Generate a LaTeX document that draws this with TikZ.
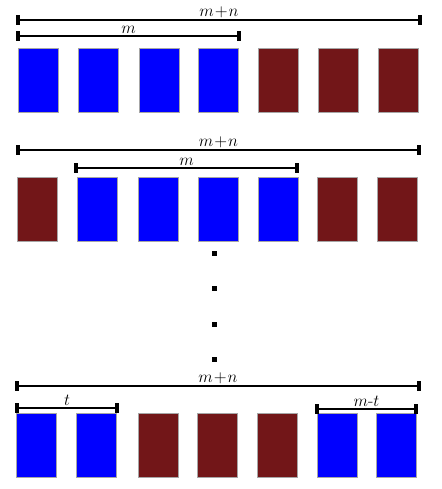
\documentclass[tikz,border=0pt]{standalone}
\usetikzlibrary{positioning,arrows.meta}
\definecolor{boxblue}{RGB}{0,0,255}
\definecolor{boxred}{RGB}{114,22,24}
\tikzset{
  cell/.style={draw=gray!70,line width=0.5pt,inner sep=0pt,minimum width=1.2cm,minimum height=1.92cm},
  bl/.style={cell,fill=boxblue},
  rd/.style={cell,fill=boxred},
  dimline/.style={line width=1pt,{Rectangle[length=3.5pt,width=8pt]}-{Rectangle[length=3.5pt,width=8pt]},shorten <=-1.75pt,shorten >=-1.75pt},
  lbl/.style={midway,above,inner sep=1.5pt,font=\fontsize{15}{18}\selectfont}
}
\begin{document}
\begin{tikzpicture}[x=0.03cm,y=-0.03cm]
  \useasboundingbox (0,0) rectangle (441,489);
  % first row
  \foreach \i/\x/\s in {1/38/bl,2/98/bl,3/159/bl,4/218/bl,5/278/rd,6/338/rd,7/398/rd}
    \node[\s] (a\i) at (\x,80) {};
  \coordinate (a0l) at (18,20); \coordinate (a0r) at (420,20);
  \coordinate (a1l) at (18,36); \coordinate (a1r) at (239,36);
  \draw[dimline] (a0l) -- (a0r) node[lbl]{$m\!+\!n$};
  \draw[dimline] (a1l) -- (a1r) node[lbl]{$m$};
  % second row
  \foreach \i/\x/\s in {1/37/rd,2/97/bl,3/158/bl,4/218/bl,5/278/bl,6/337/rd,7/397/rd}
    \node[\s] (b\i) at (\x,209) {};
  \coordinate (b0l) at (18,150); \coordinate (b0r) at (419,150);
  \coordinate (b1l) at (76,168); \coordinate (b1r) at (297,168);
  \draw[dimline] (b0l) -- (b0r) node[lbl]{$m\!+\!n$};
  \draw[dimline] (b1l) -- (b1r) node[lbl]{$m$};
  % dots
  \foreach \y in {253,288,324,359}
    \fill (211.5,\y-2.5) rectangle (216.5,\y+2.5);
  % last row
  \foreach \i/\x/\s in {1/36.5/bl,2/96.5/bl,3/158/rd,4/217/rd,5/277/rd,6/337/bl,7/396.5/bl}
    \node[\s] (c\i) at (\x,445) {};
  \coordinate (c0l) at (17,386); \coordinate (c0r) at (419,386);
  \coordinate (c1l) at (17,408); \coordinate (c1r) at (117,408);
  \coordinate (c2l) at (317,409); \coordinate (c2r) at (416,409);
  \draw[dimline] (c0l) -- (c0r) node[lbl]{$m\!+\!n$};
  \draw[dimline] (c1l) -- (c1r) node[lbl]{$t$};
  \draw[dimline] (c2l) -- (c2r) node[lbl]{$m$-$t$};
\end{tikzpicture}
\end{document}
